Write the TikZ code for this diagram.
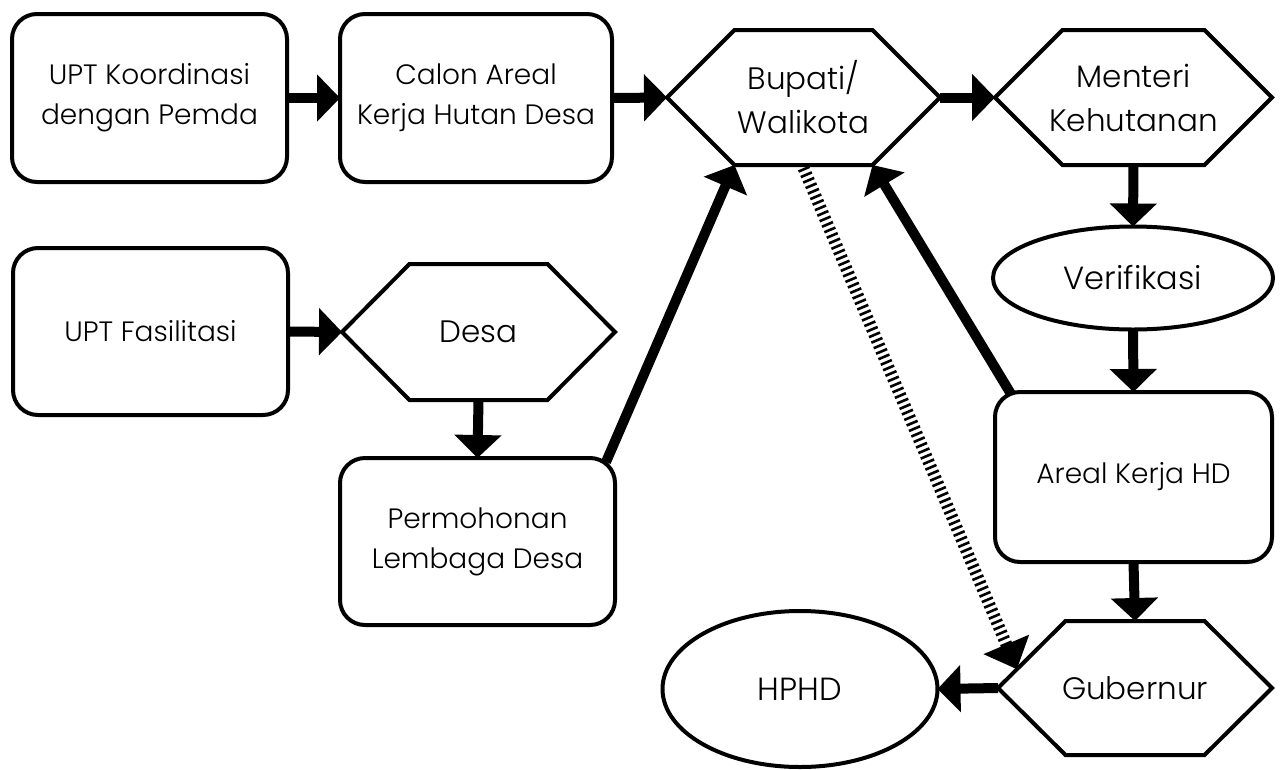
\documentclass[tikz,border=0pt]{standalone}
\usepackage{fontspec}
\setmainfont{Poppins}[UprightFont={* Light}]
\usetikzlibrary{arrows.meta,shapes.geometric,calc}

\tikzset{
  rbox/.style={draw, line width=4pt, rounded corners=25pt, minimum width=275pt,
    minimum height=168pt, align=center, inner sep=0pt, outer sep=0pt,
    font=\fontsize{28}{40}\selectfont},
  hexnode/.style={minimum width=273pt, minimum height=135pt, align=center,
    inner sep=0pt, outer sep=0pt, font=\fontsize{31}{44}\selectfont},
  ellnode/.style={draw, ellipse, line width=4pt, inner sep=0pt, outer sep=0pt,
    font=\fontsize{32}{44}\selectfont},
  hexline/.style={line width=4pt, line join=miter},
  flow/.style={line width=10pt, -{Triangle[length=23pt,width=46pt]}},
  hatch/.style={line width=12pt, dash pattern=on 2.6pt off 3.4pt,
    -{Triangle[length=27pt,width=48pt]}},
}
\newcommand\hexoutline[1]{%
  \draw[hexline] (#1.west) -- ([xshift=67.5pt]#1.north west)
    -- ([xshift=-67.5pt]#1.north east) -- (#1.east)
    -- ([xshift=-67.5pt]#1.south east) -- ([xshift=67.5pt]#1.south west) -- cycle;}

\begin{document}
\begin{tikzpicture}[x=1pt,y=-1pt]
\fill[white] (0,0) rectangle (1280,769);
\useasboundingbox (0,0) rectangle (1280,769);

% rounded boxes
\node[rbox] (A) at (149.5,98) {UPT Koordinasi\\dengan Pemda};
\node[rbox, minimum width=272pt] (B) at (476,98) {Calon Areal\\Kerja Hutan Desa};
\node[rbox, minimum height=167pt] (C) at (150.5,331.5) {UPT Fasilitasi};
\node[rbox, minimum height=167pt] (D) at (477.5,541.5) {Permohonan\\Lembaga Desa};
\node[rbox, minimum width=277pt, minimum height=170pt] (E) at (1133.5,477) {Areal Kerja HD};

% hexagons
\node[hexnode] (Bup) at (803.5,97.5) {Bupati/\\Walikota};
\node[hexnode, minimum width=277pt] (Men) at (1133.5,97.5) {Menteri\\Kehutanan};
\node[hexnode, minimum width=274pt, minimum height=134pt] (Gub) at (1135,688) {Gubernur};
\node[hexnode, minimum height=136pt] (Desa) at (478.5,332) {Desa};
\hexoutline{Bup}
\hexoutline{Men}
\hexoutline{Gub}
\hexoutline{Desa}

% ellipses
\node[ellnode, minimum width=280pt, minimum height=103pt] (Ver) at (1133,278) {Verifikasi};
\node[ellnode, minimum width=275pt, minimum height=156pt] (HPHD) at (800,689) {HPHD};

% connectors
\draw[flow] (A.east) -- (B.west);
\draw[flow] (B.east) -- (Bup.west);
\draw[flow] (Bup.east) -- (Men.west);
\draw[flow] (Men.south) -- (Ver.north);
\draw[flow] (Ver.south) -- (E.north);
\draw[flow] (E.south) -- (Gub.north);
\draw[flow] (Gub.west) -- (HPHD.east);
\draw[flow] (C.east) -- (Desa.west);
\draw[flow] (Desa.south) -- (D.north);
\draw[flow] ([shift={(-9,4)}]D.north east) -- ([xshift=67.5pt]Bup.south west);
\draw[flow] ([shift={(16,2)}]E.north west) -- ([xshift=-67.5pt]Bup.south east);
\coordinate (gubedge) at ($(Gub.west)!0.28!([xshift=67.5pt]Gub.north west)$);
\draw[hatch] ([yshift=-3pt]Bup.south) -- (gubedge);
\end{tikzpicture}
\end{document}
